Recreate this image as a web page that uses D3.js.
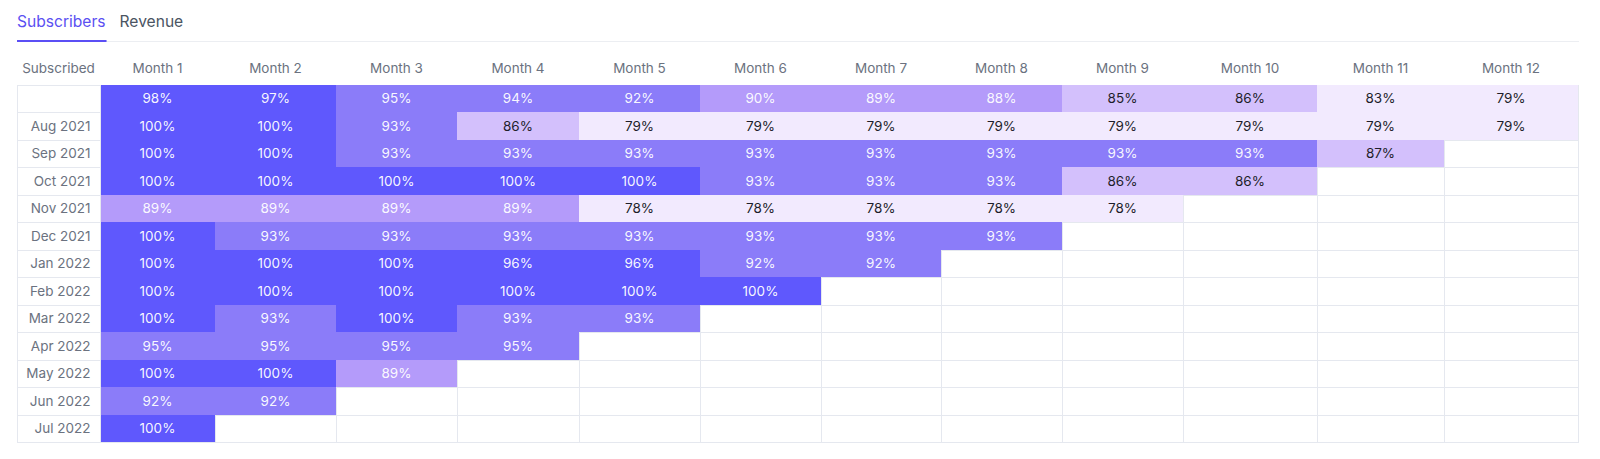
<!DOCTYPE html>
<html>
<head>
<meta charset="utf-8">
<script src="https://cdn.jsdelivr.net/npm/d3@7"></script>
<style>
  html, body { margin: 0; padding: 0; background: #fff; }
  svg { display: block; font-family: Inter, "Noto Sans", sans-serif; }
</style>
</head>
<body>
<svg id="chart" width="1600" height="459"></svg>
<script>
const tabs = ["Subscribers", "Revenue"];
const firstColumnTitle = "Subscribed";
const months = ["Month 1","Month 2","Month 3","Month 4","Month 5","Month 6","Month 7","Month 8","Month 9","Month 10","Month 11","Month 12"];
const cohorts = ["", "Aug 2021","Sep 2021","Oct 2021","Nov 2021","Dec 2021","Jan 2022","Feb 2022","Mar 2022","Apr 2022","May 2022","Jun 2022","Jul 2022"];
const retention = [
  [98, 97, 95, 94, 92, 90, 89, 88, 85, 86, 83, 79],
  [100, 100, 93, 86, 79, 79, 79, 79, 79, 79, 79, 79],
  [100, 100, 93, 93, 93, 93, 93, 93, 93, 93, 87],
  [100, 100, 100, 100, 100, 93, 93, 93, 86, 86],
  [89, 89, 89, 89, 78, 78, 78, 78, 78],
  [100, 93, 93, 93, 93, 93, 93, 93],
  [100, 100, 100, 96, 96, 92, 92],
  [100, 100, 100, 100, 100, 100],
  [100, 93, 100, 93, 93],
  [95, 95, 95, 95],
  [100, 100, 89],
  [92, 92],
  [100]
];
const colorBreaks = [84, 88, 91, 96];
const colorSteps = ["#f2eafe", "#d3c0fc", "#b49bfa", "#8b7cf9", "#5f58fd"];

const svg = d3.select("#chart");
const gridColor = "#e5e8ef";
const labelColor = "#6b7280";
const fs = 13.5;

const color = d3.scaleThreshold().domain(colorBreaks).range(colorSteps);
const textColor = d3.scaleThreshold().domain([88]).range(["#1e1e2a", "rgba(255,255,255,0.96)"]);

// Tabs
const tabG = svg.append("g");
const tab1 = tabG.append("text").attr("x", 17).attr("y", 22).attr("dy", "0.35em")
  .attr("font-size", 15.6).attr("fill", "#5b50f2").text(tabs[0]);
const w1 = tab1.node().getComputedTextLength();
tabG.append("text").attr("x", 17 + w1 + 14).attr("y", 22).attr("dy", "0.35em")
  .attr("font-size", 15.6).attr("fill", "#4b5563").text(tabs[1]);
tabG.append("line").attr("x1", 17).attr("x2", 1579).attr("y1", 41.5).attr("y2", 41.5)
  .attr("stroke", "#eceef2").attr("stroke-width", 1);
tabG.append("rect").attr("x", 17).attr("y", 40).attr("width", w1 + 1).attr("height", 2)
  .attr("fill", "#5b4ff5");

// Column widths proportional to header text widths (auto table layout)
const headerG = svg.append("g");
const headerTexts = headerG.selectAll("text.month").data(months).join("text")
  .attr("class", "month").attr("font-size", fs).attr("fill", labelColor)
  .attr("text-anchor", "middle").attr("y", 68).attr("dy", "0.35em").text(d => d);
const widths = headerTexts.nodes().map(n => n.getComputedTextLength());
const cum = [0];
widths.forEach((w, i) => cum.push(cum[i] + w));
const xPos = d3.scaleLinear().domain([0, cum[cum.length - 1]]).range([100, 1578])
  .interpolate(d3.interpolateRound);
const colX = i => xPos(cum[i]);
const colW = i => xPos(cum[i + 1]) - xPos(cum[i]);
headerTexts.attr("x", (d, i) => colX(i) + colW(i) / 2);

const labelX0 = 17;
headerG.append("text").attr("x", (labelX0 + 100) / 2).attr("y", 68).attr("dy", "0.35em")
  .attr("text-anchor", "middle").attr("font-size", fs).attr("fill", labelColor).text(firstColumnTitle);

const y = d3.scaleBand().domain(d3.range(cohorts.length)).range([85, 442.3]);
const yr = i => Math.round(y(i));
const yEnd = i => i + 1 < cohorts.length ? Math.round(y(i + 1)) : Math.round(y.range()[1]);

// Grid lines
const grid = svg.append("g").attr("shape-rendering", "crispEdges");
const xEdges = [labelX0].concat(d3.range(months.length + 1).map(i => colX(i)));
grid.selectAll("line.v").data(xEdges).join("line")
  .attr("x1", d => d + 0.5).attr("x2", d => d + 0.5)
  .attr("y1", yr(0)).attr("y2", yEnd(cohorts.length - 1) + 1)
  .attr("stroke", gridColor);
const yEdges = d3.range(cohorts.length).map(i => yr(i)).concat([yEnd(cohorts.length - 1)]);
grid.selectAll("line.h").data(yEdges).join("line")
  .attr("x1", labelX0).attr("x2", colX(months.length) + 1).attr("y1", d => d + 0.5).attr("y2", d => d + 0.5)
  .attr("stroke", gridColor);

// Cells
const cells = [];
retention.forEach((row, r) => row.forEach((v, c) => cells.push({ r, c, v })));
const cellG = svg.append("g");
cellG.selectAll("rect").data(cells).join("rect")
  .attr("shape-rendering", "crispEdges")
  .attr("x", d => colX(d.c) + (d.c === 0 ? 1 : 0)).attr("y", d => yr(d.r))
  .attr("width", d => colW(d.c) - (d.c === 0 ? 1 : 0)).attr("height", d => yEnd(d.r) - yr(d.r))
  .attr("fill", d => color(d.v));
cellG.selectAll("text").data(cells).join("text")
  .attr("x", d => colX(d.c) + colW(d.c) / 2).attr("y", d => y(d.r) + y.bandwidth() / 2)
  .attr("dy", "0.35em").attr("text-anchor", "middle").attr("font-size", fs)
  .attr("fill", d => textColor(d.v)).text(d => d.v + "%");

// Row labels
svg.append("g").selectAll("text").data(cohorts).join("text")
  .attr("x", 90.5).attr("y", (d, i) => y(i) + y.bandwidth() / 2).attr("dy", "0.35em")
  .attr("text-anchor", "end").attr("font-size", fs).attr("fill", labelColor).text(d => d);
</script>
</body>
</html>
